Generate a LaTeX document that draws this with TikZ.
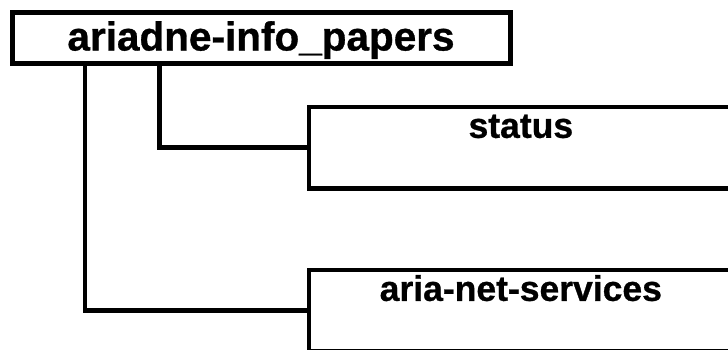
\documentclass[tikz,border=0pt]{standalone}
\usepackage{fontspec}
\setmainfont{Liberation Sans}[BoldFeatures={FakeBold=0.8}]

\begin{document}
\begin{tikzpicture}[x=1pt, y=-1pt, line join=miter,
                    top node/.style={rectangle,draw,line width=5pt,inner sep=0pt,anchor=north west,
                      minimum width=498pt,text height=38.5pt,text depth=13pt,
                      font=\bfseries\fontsize{40.5}{41}\selectfont},
                    child node/.style={rectangle,draw,line width=4.7pt,inner sep=0pt,anchor=north west,
                      minimum width=424pt,text height=31pt,text depth=50.5pt,
                      font=\bfseries\fontsize{35.5}{36}\selectfont},
                    link/.style={line width=4.7pt}]

  \useasboundingbox (0,0) rectangle (728,349);
  \clip (0,0) rectangle (728,349);

  \node[top node] (root) at (9.5,9.5) {ariadne-info\_papers};
  \node[child node] (status) at (306.5,104.5) {status};
  \node[child node] (services) at (306.5,267.5) {aria-net-services};

  \draw[link] ([xshift=150pt]root.south west) |- (status.west);
  \draw[link] ([xshift=75.5pt]root.south west) |- (services.west);
\end{tikzpicture}
\end{document}
